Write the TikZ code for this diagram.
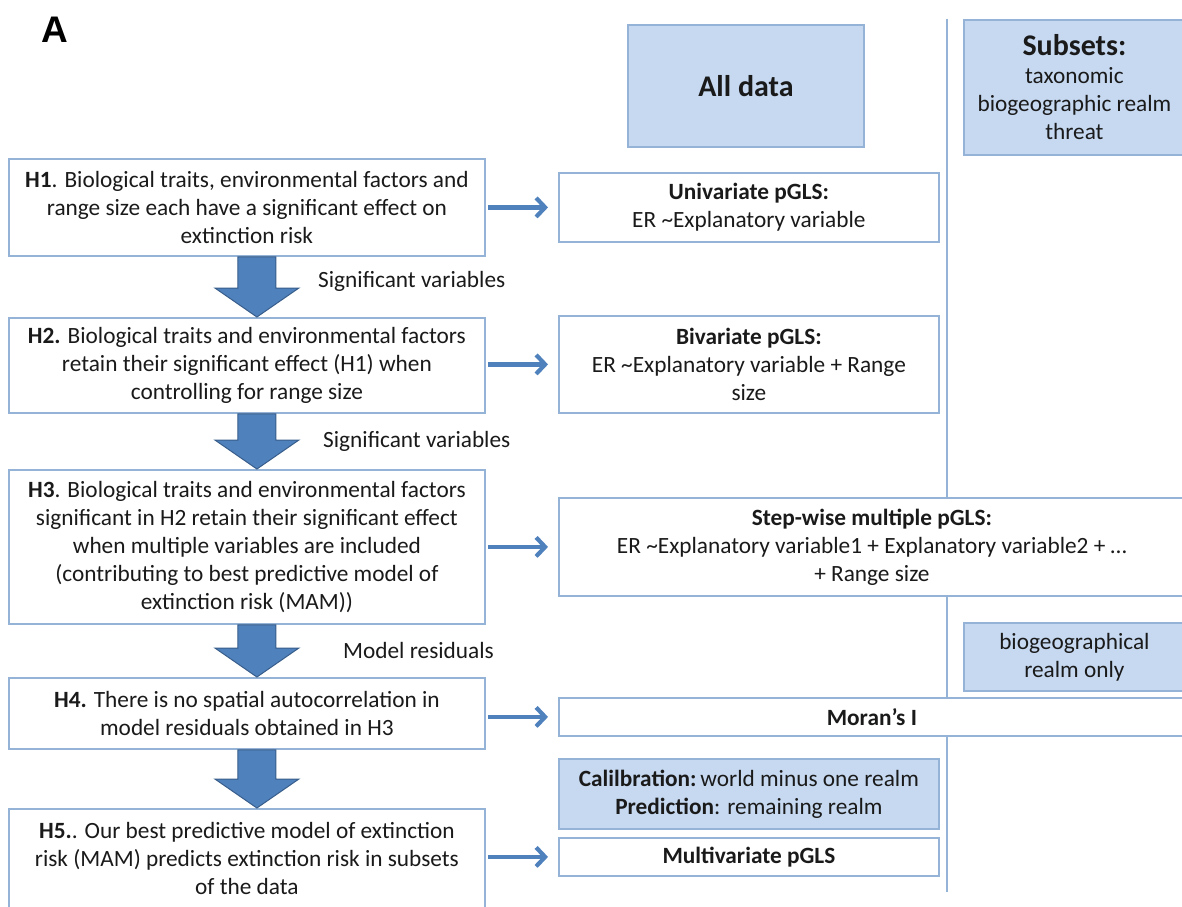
\documentclass[tikz,border=0pt]{standalone}
\usepackage{fontspec}
\setmainfont{Carlito}
\newfontfamily\arialfont{Liberation Sans}
\usetikzlibrary{arrows.meta,calc}
\definecolor{bordblue}{HTML}{95B3D7}
\definecolor{fillblue}{HTML}{C6D9F1}
\definecolor{arrblue}{HTML}{4F81BD}
\definecolor{arrdark}{HTML}{385D8A}
\definecolor{txt}{HTML}{1A1A1A}
\begin{document}
\begin{tikzpicture}[x=1pt,y=-1pt,
 box/.style={draw=bordblue, line width=1.8pt, fill=white, anchor=north west, inner sep=0pt, align=center, text=txt, font=\fontsize{23.3}{28}\selectfont},
 shaded/.style={box, fill=fillblue},
 smallarrow/.style={draw=arrblue, line width=4.2pt, -{Straight Barb[length=9pt,width=19pt]}, shorten <=2pt, shorten >=10pt},
 bigarrow/.style={fill=arrblue, draw=arrdark, line width=1pt},
 lbl/.style={anchor=west, text=txt, font=\fontsize{23.3}{26}\selectfont, inner sep=0pt}]
\useasboundingbox (0,0) rectangle (1182,906);
\clip (0,0) rectangle (1182,906);

% divider
\draw[bordblue, line width=2pt] (947,19) -- (947,892);

\node[font=\arialfont\bfseries\fontsize{37}{40}\selectfont, text=black, inner sep=0pt] (lblA) at (55,30) {A};

% header boxes
\node[shaded, minimum width=236pt, minimum height=122pt, font=\bfseries\fontsize{30}{32}\selectfont] (alldata) at (627,24) {All data};
\node[shaded, minimum width=221pt, minimum height=135pt] (subsets) at (963,19) {{\bfseries\fontsize{30}{32}\selectfont Subsets:}\\ taxonomic\\ biogeographic realm\\ threat};

% hypothesis boxes
\node[box, minimum width=476pt, minimum height=97pt] (h1) at (8,158) {\textbf{H1}. Biological traits, environmental factors and\\ range size each have a significant effect on\\ extinction risk};
\node[box, minimum width=476pt, minimum height=95pt] (h2) at (8,317) {\textbf{H2.} Biological traits and environmental factors\\ retain their significant effect (H1) when\\ controlling for range size};
\node[box, minimum width=476pt, minimum height=154pt] (h3) at (8,469) {\textbf{H3}. Biological traits and environmental factors\\ significant in H2 retain their significant effect\\ when multiple variables are included\\ (contributing to best predictive model of\\ extinction risk (MAM))};
\node[box, minimum width=476pt, minimum height=71pt] (h4) at (8,677) {\textbf{H4.} There is no spatial autocorrelation in\\ model residuals obtained in H3};
\node[box, minimum width=476pt, minimum height=100pt] (h5) at (8,808) {\textbf{H5.}. Our best predictive model of extinction\\ risk (MAM) predicts extinction risk in subsets\\ of the data};

% method boxes
\node[box, minimum width=380pt, minimum height=69pt] (uni) at (558,172) {\textbf{Univariate pGLS:}\\ ER \textasciitilde Explanatory variable};
\node[box, minimum width=380pt, minimum height=97pt] (biv) at (558,315) {\textbf{Bivariate pGLS:}\\ ER \textasciitilde Explanatory variable + Range\\ size};
\node[box, minimum width=626pt, minimum height=98pt] (step) at (558,497) {\textbf{Step-wise multiple pGLS:}\\ ER \textasciitilde Explanatory variable1 + Explanatory variable2 + \dots\\ + Range size};
\node[shaded, minimum width=221pt, minimum height=68pt] (bio) at (963,622) {biogeographical\\ realm only};
\node[box, minimum width=626pt, minimum height=38pt] (moran) at (558,697) {\textbf{Moran’s I}};
\node[shaded, minimum width=380pt, minimum height=70pt] (calib) at (558,758) {\textbf{Calilbration:}\,world minus one realm\\ \textbf{Prediction}: remaining realm};
\node[box, minimum width=380pt, minimum height=38pt] (multi) at (558,837) {\textbf{Multivariate pGLS}};

% small arrows
\draw[smallarrow] (h1.east |- uni.west) -- (uni.west);
\draw[smallarrow] (h2.east |- biv.west) -- (biv.west);
\draw[smallarrow] (h3.east |- step.west) -- (step.west);
\draw[smallarrow] (h4.east |- moran.west) -- (moran.west);
\draw[smallarrow] (h5.east |- multi.west) -- (multi.west);

% big arrows
\foreach \a/\b in {h1/h2, h2/h3, h3/h4, h4/h5}{
 \draw[bigarrow] let \p1=($(\a.south)+(10,0)$), \p2=($(\b.north)+(10,0)$) in
  (\x1-19pt,\y1) -- (\x1+19pt,\y1) -- (\x1+19pt,\y2+29pt) -- (\x1+42pt,\y2+29pt) -- (\x2,\y2) -- (\x1-42pt,\y2+29pt) -- (\x1-19pt,\y2+29pt) -- cycle;
}

% labels
\node[lbl] (sig1) at (318,281) {Significant variables};
\node[lbl] (sig2) at (323,441) {Significant variables};
\node[lbl] (resid) at (343,650) {Model residuals};
\end{tikzpicture}
\end{document}
